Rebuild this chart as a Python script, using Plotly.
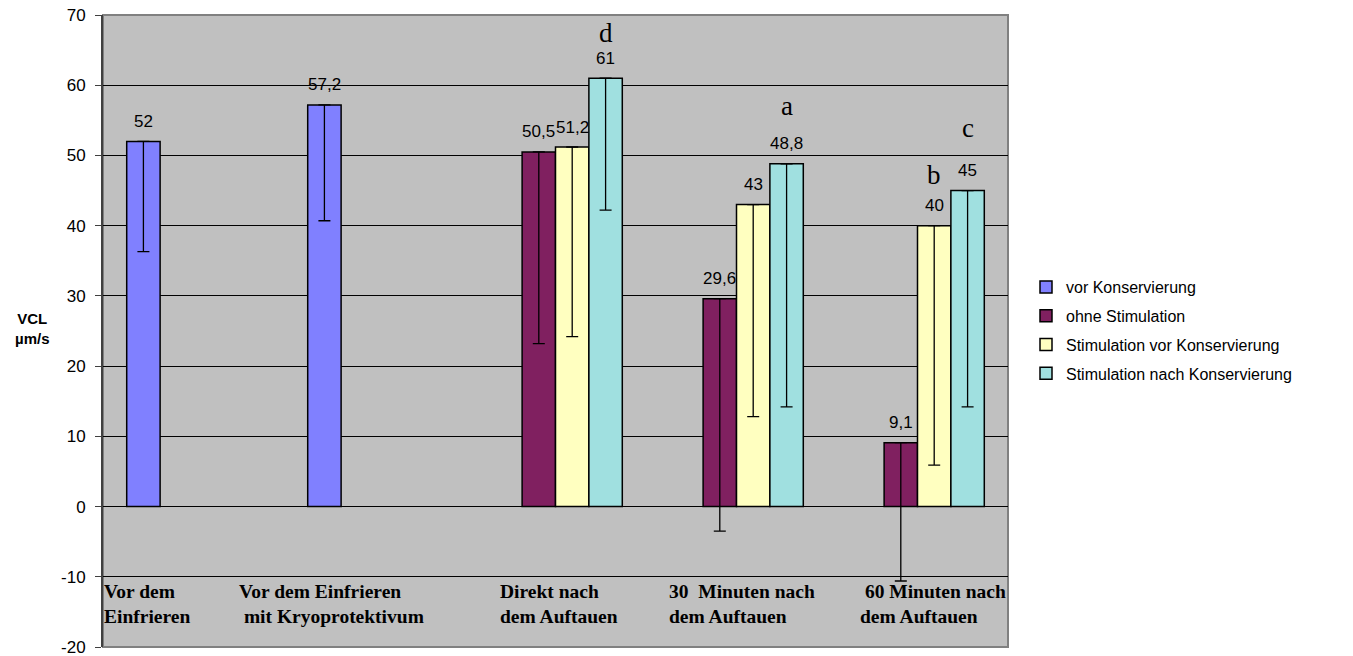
import plotly.graph_objects as go

# ---------------- data ----------------
categories = [
    "Vor dem Einfrieren",
    "Vor dem Einfrieren mit Kryoprotektivum",
    "Direkt nach dem Auftauen",
    "30 Minuten nach dem Auftauen",
    "60 Minuten nach dem Auftauen",
]
series_names = [
    "vor Konservierung",
    "ohne Stimulation",
    "Stimulation vor Konservierung",
    "Stimulation nach Konservierung",
]
vor_konservierung = [52, 57.2, None, None, None]
ohne_stimulation = [None, None, 50.5, 29.6, 9.1]
stim_vor_konservierung = [None, None, 51.2, 43, 40]
stim_nach_konservierung = [None, None, 61, 48.8, 45]

err_vor_konservierung = [15.7, 16.5, None, None, None]
err_ohne_stimulation = [None, None, 27.3, 33.1, 19.7]
err_stim_vor = [None, None, 27.0, 30.2, 34.1]
err_stim_nach = [None, None, 18.8, 34.6, 30.8]

# category text boxes (two lines each)
cat_line1 = ["Vor dem", "Vor dem Einfrieren", "Direkt nach", "30\u00a0 Minuten nach", "\u00a060 Minuten nach"]
cat_line2 = ["Einfrieren", "\u00a0mit Kryoprotektivum", "dem Auftauen", "dem Auftauen", "dem Auftauen"]

# significance letters: (letter, category index, series index, y value)
sig_letters = ["d", "a", "b", "c"]
sig_cat = [2, 3, 4, 4]
sig_series = [3, 3, 2, 3]
sig_y = [67.4, 57.1, 47.2, 53.9]

y_ticks = [-20, -10, 0, 10, 20, 30, 40, 50, 60, 70]

# ---------------- layout constants ----------------
W, H = 1353, 656
ML, MR, MT, MB = 103, 345, 15, 9
PW = W - ML - MR
PH = H - MT - MB
BARGAP = 0.262
slot_px = PW / len(categories) * (1 - BARGAP) / 4

colors = ["#8080FF", "#802060", "#FFFFC0", "#A0E0E0"]
values = [vor_konservierung, ohne_stimulation, stim_vor_konservierung, stim_nach_konservierung]
errors = [err_vor_konservierung, err_ohne_stimulation, err_stim_vor, err_stim_nach]

SANS = "Liberation Sans, Arial, sans-serif"
SERIF = "Liberation Serif, Times New Roman, serif"


def px_to_paper_x(px):
    return (px - ML) / PW


def px_to_paper_y(py):
    return 1 - (py - MT) / PH


fig = go.Figure()
for i, (name, vals, errs, col) in enumerate(zip(series_names, values, errors, colors)):
    fig.add_trace(go.Bar(
        x=categories,
        y=vals,
        name=name,
        legendgroup=name,
        marker=dict(color=col, line=dict(color="black", width=1.5)),
        error_y=dict(
            type="data", symmetric=False,
            array=[0 if v is not None else None for v in vals],
            arrayminus=errs,
            color="black", thickness=1.3, width=6,
        ),
    ))

annotations = []
# value labels above bars
for i, vals in enumerate(values):
    for k, v in enumerate(vals):
        if v is None:
            continue
        annotations.append(dict(
            x=categories[k], xref="x", y=v, yref="y",
            text=f"{v:g}".replace(".", ","),
            xshift=(i - 1.5) * slot_px, yshift=20,
            showarrow=False, xanchor="center", yanchor="middle",
            font=dict(family=SANS, size=17, color="black"),
        ))

# significance letters
for s, k, i, yv in zip(sig_letters, sig_cat, sig_series, sig_y):
    annotations.append(dict(
        x=categories[k], xref="x", y=yv, yref="y",
        text=s, xshift=(i - 1.5) * slot_px,
        showarrow=False, xanchor="center", yanchor="middle",
        font=dict(family=SERIF, size=27, color="black"),
    ))

# category text boxes (one two-line text each)
label_left = [102, 237, 498, 667, 858]
for t1, t2, x1 in zip(cat_line1, cat_line2, label_left):
    annotations.append(dict(
        x=px_to_paper_x(x1), xref="paper", y=px_to_paper_y(603.5), yref="paper",
        text=f"<b>{t1}</b><br><b>{t2}</b>", showarrow=False,
        xanchor="left", yanchor="middle", align="left",
        font=dict(family=SERIF, size=19.5, color="black"),
    ))

# y-axis title
annotations.append(dict(
    x=px_to_paper_x(32), xref="paper", y=px_to_paper_y(328), yref="paper",
    text="<b>VCL</b><br><b>µm/s</b>", showarrow=False,
    xanchor="center", yanchor="middle", align="center",
    font=dict(family=SANS, size=15, color="black"),
))

fig.update_layout(
    width=W, height=H,
    margin=dict(l=ML, r=MR, t=MT, b=MB, pad=0, autoexpand=False),
    paper_bgcolor="white",
    plot_bgcolor="#C0C0C0",
    barmode="group",
    bargap=BARGAP,
    bargroupgap=0,
    showlegend=True,
    legend=dict(
        x=px_to_paper_x(1026), xanchor="left",
        y=px_to_paper_y(330.5), yanchor="middle",
        font=dict(family=SANS, size=16, color="black"),
        bgcolor="rgba(0,0,0,0)",
        tracegroupgap=5,
        traceorder="grouped",
    ),
    xaxis=dict(
        showticklabels=False, ticks="", showgrid=False, zeroline=False,
        showline=False, range=[-0.5, len(categories) - 0.5], automargin=False,
    ),
    yaxis=dict(
        range=[-20, 70], tickvals=y_ticks, ticktext=[str(t) for t in y_ticks],
        ticks="outside", ticklen=6, tickcolor="#404040", tickwidth=1,
        ticklabelstandoff=6, ticklabeloverflow="allow",
        showline=True, linecolor="#404040", linewidth=2,
        showgrid=True, gridcolor="#000000", gridwidth=1,
        zeroline=False, automargin=False,
        tickfont=dict(family=SANS, size=17, color="black"),
    ),
    annotations=annotations,
    shapes=[dict(
        type="rect", xref="paper", yref="paper", x0=0, x1=1, y0=0, y1=1,
        line=dict(color="#808080", width=2), layer="below",
    )],
)

# remove the default 8px page margin so the figure fills the window exactly
fig.write_html(
    "out.html",
    config={"displayModeBar": False},
    post_script="document.body.style.margin='0';document.body.style.overflow='hidden';",
)
